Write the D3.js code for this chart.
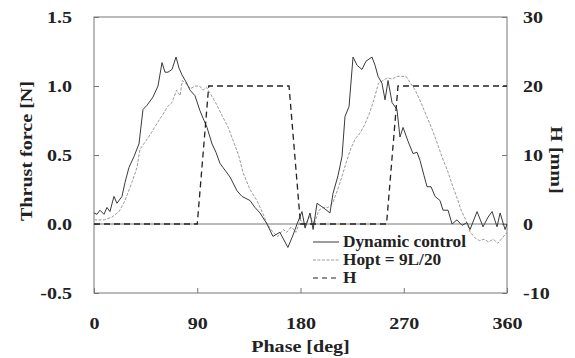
<!DOCTYPE html>
<html>
<head>
<meta charset="utf-8">
<script src="https://cdn.jsdelivr.net/npm/d3@7"></script>
<style>
  body { margin: 0; background: #fff; }
  text { font-family: "Liberation Serif", "DejaVu Serif", serif; font-weight: bold; fill: #222; }
</style>
</head>
<body>
<div id="chart"></div>
<script>
// phase [deg] / thrust force [N]
const dynPhase = [0, 2.6, 5.2, 8.7, 11.3, 13.9, 17.4, 20, 24.4, 27, 30.5, 34.9, 39.2, 42.7, 46.2, 51.4, 55.8, 59.3, 61.9, 64.5, 68, 71.5, 74.1, 76.7, 80.2, 83.7, 88, 92.4, 95.9, 98.5, 102.9, 106.3, 109.8, 112.4, 118.6, 124.7, 129, 136, 140.3, 144.7, 150.8, 156, 162, 169, 173.5, 177, 181.3, 184, 188.3, 191, 194.4, 199.6, 205.7, 208.3, 212.7, 216.2, 218.8, 222.3, 225.8, 229.3, 233.6, 237.1, 242.3, 245, 247.6, 251, 253.7, 256.3, 259.8, 264.1, 266.7, 269.4, 273.7, 278.1, 281.6, 284.2, 287.7, 290.3, 293.8, 297.3, 301.6, 304.2, 308.6, 312.1, 316.4, 320.8, 325.1, 327.8, 333.9, 339.1, 343.5, 347, 351.3, 354, 358.3, 360];
const dynForce = [0.08, 0.07, 0.10, 0.07, 0.12, 0.09, 0.20, 0.15, 0.20, 0.30, 0.41, 0.49, 0.58, 0.83, 0.86, 0.92, 1.0, 1.17, 1.10, 1.10, 1.12, 1.21, 1.13, 1.08, 1.03, 0.97, 0.93, 0.82, 0.75, 0.70, 0.58, 0.52, 0.44, 0.41, 0.34, 0.24, 0.20, 0.17, 0.12, 0.08, 0.0, -0.09, -0.06, -0.17, -0.08, 0.0, 0.09, -0.03, 0.08, -0.04, 0.15, 0.12, 0.08, 0.22, 0.35, 0.49, 0.78, 0.85, 1.21, 1.15, 1.12, 1.18, 1.21, 1.15, 1.07, 1.02, 0.90, 1.04, 0.88, 0.83, 0.63, 0.70, 0.60, 0.51, 0.52, 0.46, 0.35, 0.27, 0.27, 0.20, 0.17, 0.10, 0.10, 0.0, 0.03, -0.01, 0.01, -0.04, 0.09, -0.02, 0.05, 0.09, -0.02, 0.08, -0.04, 0.0];

const optPhase = [0, 9, 15.7, 21.8, 27, 33, 37.5, 40, 45, 50, 55, 59, 64, 68, 72, 75, 77, 80, 84, 88, 92, 95, 98, 101, 106, 112, 117, 121, 126, 130, 136, 142, 147, 151, 156, 160, 165, 168, 172, 176, 180, 184, 188, 192, 196, 200, 204, 208, 212, 216, 220, 224, 228, 232, 236, 240, 244, 248, 252, 256, 260, 264, 268, 272, 276, 280, 285, 290, 295, 299, 304, 308, 312, 316, 320, 324, 328, 332, 336, 340, 344, 348, 352, 356, 360];
const optForce = [0.03, 0.03, 0.05, 0.09, 0.17, 0.30, 0.41, 0.54, 0.60, 0.66, 0.73, 0.78, 0.85, 0.88, 0.97, 0.93, 1.04, 1.02, 0.98, 1.0, 1.0, 0.97, 0.99, 0.95, 0.88, 0.78, 0.70, 0.61, 0.50, 0.37, 0.25, 0.17, 0.08, 0.0, -0.06, -0.09, -0.04, -0.06, -0.02, -0.06, 0.03, -0.02, 0.06, 0.0, 0.10, 0.12, 0.12, 0.15, 0.24, 0.34, 0.45, 0.55, 0.62, 0.66, 0.72, 0.80, 0.90, 1.02, 1.04, 1.06, 1.05, 1.07, 1.07, 1.07, 1.02, 0.97, 0.88, 0.78, 0.68, 0.59, 0.47, 0.39, 0.29, 0.20, 0.10, 0.03, -0.06, -0.10, -0.12, -0.11, -0.13, -0.11, -0.14, -0.10, -0.06];

// H [mm]
const hPhase = [0, 90, 100, 170, 180, 255, 265, 360];
const hMm = [0, 0, 20, 20, 0, 0, 20, 20];

const xTicks = [0, 90, 180, 270, 360];
const yTicks = [-0.5, 0, 0.5, 1.0, 1.5];
const y2Ticks = [-10, 0, 10, 20, 30];
const legendNames = ["Dynamic control", "Hopt = 9L/20", "H"];

const width = 575, height = 358;
const margin = { top: 17, right: 68, bottom: 65, left: 94 };

const svg = d3.select("#chart").append("svg")
  .attr("width", width)
  .attr("height", height);

const x = d3.scaleLinear().domain([0, 360]).range([margin.left, width - margin.right]);
const y = d3.scaleLinear().domain([-0.5, 1.5]).range([height - margin.bottom, margin.top]);
const y2 = d3.scaleLinear().domain([-10, 30]).range([height - margin.bottom, margin.top]);

// frame
svg.append("rect")
  .attr("x", x(0)).attr("y", y(1.5))
  .attr("width", x(360) - x(0)).attr("height", y(-0.5) - y(1.5))
  .attr("fill", "none").attr("stroke", "#777").attr("stroke-width", 1);

// zero line
svg.append("line")
  .attr("x1", x(0)).attr("x2", x(360))
  .attr("y1", y(0)).attr("y2", y(0))
  .attr("stroke", "#777");

// axes, ticks inward
const axisStyle = g => {
  g.select(".domain").remove();
  g.selectAll(".tick line").attr("stroke", "#777");
  g.selectAll(".tick text").attr("fill", "#222").attr("font-size", 17)
    .attr("font-family", "Liberation Serif, serif").attr("font-weight", "bold")
    .attr("class", "wide");
};

// plain hyphen for negatives, like the original figure
svg.append("g")
  .attr("transform", `translate(0,${y(-0.5)})`)
  .call(d3.axisBottom(x).tickValues(xTicks).tickSize(-5).tickPadding(24).tickFormat(d => String(d)))
  .call(axisStyle);

svg.append("g")
  .attr("transform", `translate(${x(0)},0)`)
  .call(d3.axisLeft(y).tickValues(yTicks).tickSize(-5).tickPadding(22).tickFormat(d => d.toFixed(1)))
  .call(axisStyle);

svg.append("g")
  .attr("transform", `translate(${x(360)},0)`)
  .call(d3.axisRight(y2).tickValues(y2Ticks).tickSize(-5).tickPadding(16).tickFormat(d => String(d)))
  .call(axisStyle);

// lines
const dynData = dynPhase.map((p, i) => [p, dynForce[i]]);
const optData = optPhase.map((p, i) => [p, optForce[i]]);
const hData = hPhase.map((p, i) => [p, hMm[i]]);

const lineF = d3.line().x(d => x(d[0])).y(d => y(d[1]));
const lineH = d3.line().x(d => x(d[0])).y(d => y2(d[1]));

svg.append("path").datum(optData)
  .attr("d", lineF).attr("fill", "none")
  .attr("stroke", "#9a9a9a").attr("stroke-width", 1).attr("stroke-dasharray", "3,1.5");

svg.append("path").datum(dynData)
  .attr("d", lineF).attr("fill", "none")
  .attr("stroke", "#3a3a3a").attr("stroke-width", 1);

svg.append("path").datum(hData)
  .attr("d", lineH).attr("fill", "none")
  .attr("stroke", "#222").attr("stroke-width", 1.3).attr("stroke-dasharray", "6,4");

// legend
const legStyles = [
  { stroke: "#3a3a3a", dash: null },
  { stroke: "#9a9a9a", dash: "3,1.5" },
  { stroke: "#222", dash: "5,4" }
];
const leg = svg.append("g").attr("transform", "translate(313,242)");
legendNames.forEach((name, i) => {
  const row = leg.append("g").attr("transform", `translate(0,${i * 18})`);
  row.append("line").attr("x1", 0).attr("x2", 26).attr("y1", 0).attr("y2", 0)
    .attr("stroke", legStyles[i].stroke).attr("stroke-dasharray", legStyles[i].dash);
  row.append("text").attr("class", "legtext").attr("x", 30).attr("y", 5).attr("font-size", 16).text(name);
});

// axis titles
svg.append("text").attr("class", "wide")
  .attr("x", x(180)).attr("y", 352)
  .attr("text-anchor", "middle").attr("font-size", 17)
  .text("Phase [deg]");

svg.append("text").attr("class", "wide")
  .attr("transform", `translate(32,${y(0.5) - 4}) rotate(-90)`)
  .attr("text-anchor", "middle").attr("font-size", 17)
  .text("Thrust force [N]");

svg.append("text").attr("class", "wide")
  .attr("transform", `translate(551,160) rotate(90)`)
  .attr("text-anchor", "middle").attr("font-size", 17)
  .text("H [mm]");

// the scanned figure's lettering is wider than Liberation Serif, stretch it a bit
function stretch(sel, f) {
  sel.each(function () {
    const w = this.getComputedTextLength();
    d3.select(this).attr("textLength", w * f).attr("lengthAdjust", "spacingAndGlyphs");
  });
}
stretch(svg.selectAll("text.wide"), 1.18);
stretch(svg.selectAll("text.legtext"), 1.08);
</script>
</body>
</html>
